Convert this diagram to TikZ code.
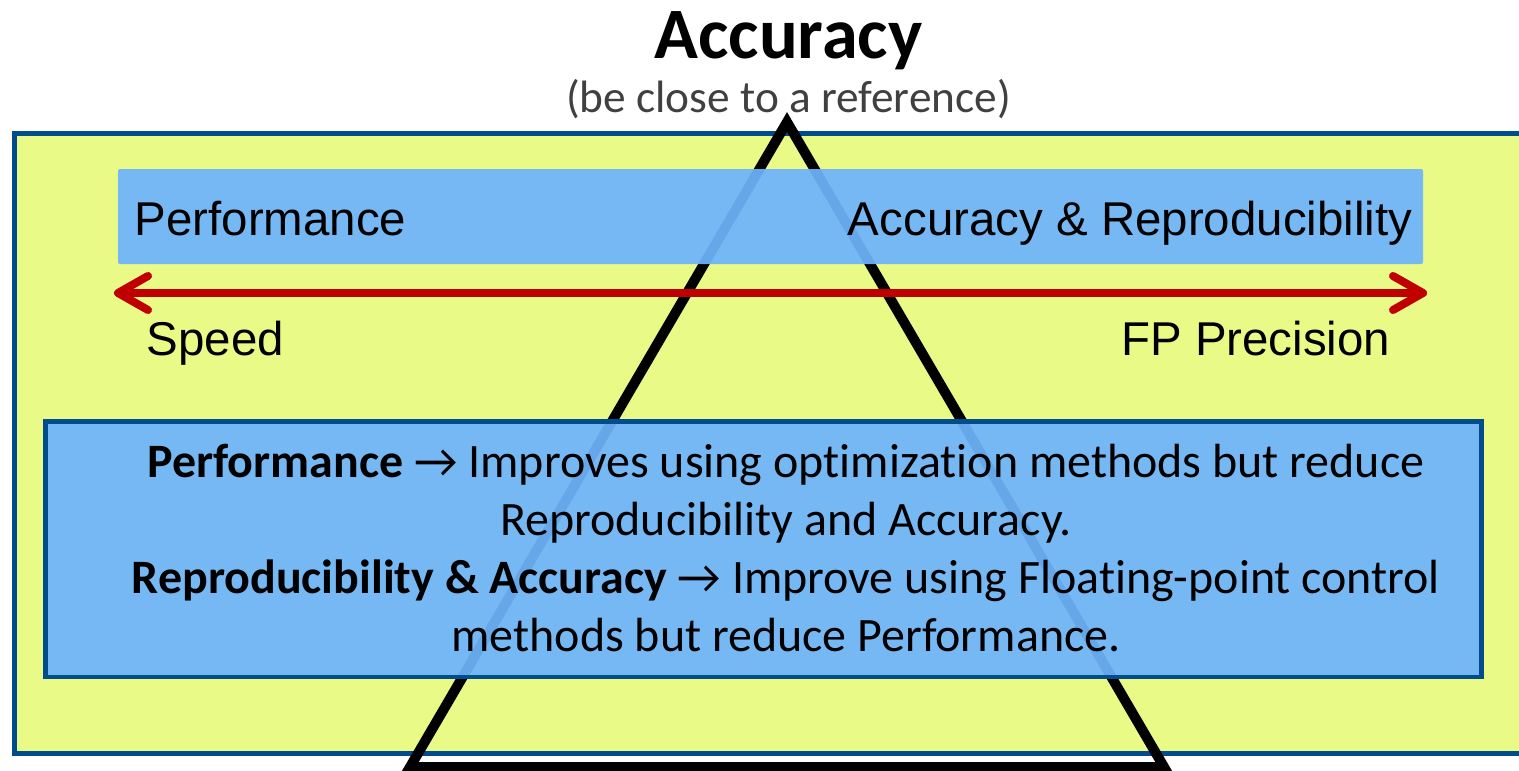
\documentclass[tikz,border=0pt]{standalone}
\usepackage{fontspec}
\setmainfont{Carlito}[Ligatures=NoCommon]
\newfontfamily\arial{Liberation Sans}
\usetikzlibrary{arrows.meta}
\definecolor{paleyellow}{RGB}{233,250,135}
\definecolor{skyblue}{RGB}{110,180,252}
\definecolor{navy}{RGB}{0,76,140}
\definecolor{darkred}{RGB}{192,0,0}
\definecolor{greytext}{RGB}{64,64,64}
\newcommand{\barb}{Straight Barb[length=0.3cm,width=0.34cm,line cap=round,line join=round]}

\begin{document}
\begin{tikzpicture}[
  glass/.style={fill=skyblue,fill opacity=0.93,text opacity=1,inner sep=0pt},
  tag/.style={font=\arial\fontsize{13.5}{16}\selectfont,inner sep=0pt}]
  \useasboundingbox (0,0) rectangle (15.19,7.70);
  \draw[navy,line width=0.05cm,fill=paleyellow] (0.15,0.165) rectangle (15.40,6.365);
  \draw[line width=0.1cm,line join=miter] (7.87,6.48) -- (4.10,0.03) -- (11.64,0.03) -- cycle;
  \node[font=\bfseries\fontsize{20.6}{24}\selectfont,anchor=base] (title) at (7.885,7.12) {Accuracy};
  \node[font=\fontsize{12.9}{15}\selectfont,text=greytext,anchor=base] (sub) at (7.885,6.58) {(be close to a reference)};
  \node[glass,rounded corners=0.02cm,minimum width=13.05cm,minimum height=0.95cm] (bar) at (7.705,5.535) {};
  \node[tag,anchor=base west] (perf) at (1.34,5.35) {Performance};
  \node[tag,anchor=base east] (accrep) at (14.13,5.35) {Accuracy \& Reproducibility};
  \coordinate (slow) at (1.14,4.77);
  \coordinate (precise) at (14.27,4.77);
  \draw[darkred,line width=0.08cm,{\barb}-{\barb}] (slow) -- (precise);
  \node[tag,anchor=base west] (speed) at (1.46,4.15) {Speed};
  \node[tag,anchor=base east] (fp) at (13.91,4.15) {FP Precision};
  \node[glass,draw=navy,draw opacity=1,line width=0.045cm,minimum width=14.36cm,minimum height=2.555cm] (notebox) at (7.635,2.2075) {};
  \node[align=center,font=\fontsize{13.65}{16.5}\selectfont] (notes) at (7.86,2.22)
    {\textbf{Performance} → Improves using optimization methods but reduce\\
     Reproducibility and Accuracy.\\
     \textbf{Reproducibility \& Accuracy} → Improve using Floating-point control\\
     methods but reduce Performance.};
\end{tikzpicture}
\end{document}
